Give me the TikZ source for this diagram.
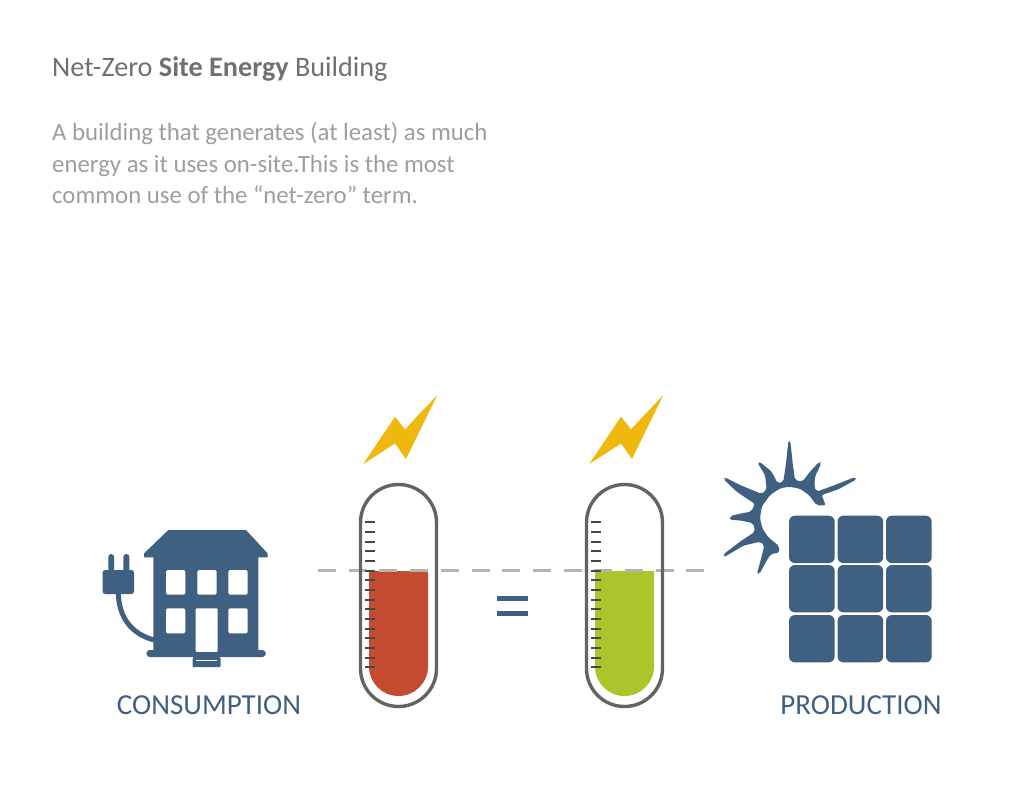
\documentclass[tikz,border=0pt]{standalone}
\usepackage{fontspec}
\setmainfont{Carlito}
\definecolor{slateblue}{HTML}{3F6080}
\definecolor{tubegray}{HTML}{636363}
\definecolor{dashgray}{HTML}{B4B4B4}
\definecolor{boltyellow}{HTML}{F0B70F}
\definecolor{levelred}{HTML}{C44A30}
\definecolor{levelgreen}{HTML}{ADC42A}
\tikzset{
  titletext/.style={anchor=base west,inner sep=0,text=black!56,font=\fontsize{28.2}{28}\selectfont},
  bodytext/.style={anchor=base west,inner sep=0,text=black!38,font=\fontsize{24.8}{25}\selectfont},
  labeltext/.style={anchor=base,inner sep=0,text=slateblue,font=\fontsize{29}{29}\selectfont},
  cell/.style={fill=slateblue,rounded corners=6},
}
\begin{document}
\begin{tikzpicture}[x=1pt,y=-1pt]
\useasboundingbox (0,0) rectangle (1024,792);

% Texte
\node[titletext] (title) at (52,77) {Net-Zero \textbf{Site Energy} Building};
\node[bodytext] (line1) at (52,140) {A building that generates (at least) as much};
\node[bodytext] (line2) at (52,172) {energy as it uses on-site.This is the most};
\node[bodytext] (line3) at (52,203) {common use of the “net-zero” term.};

% Niveau
\foreach \tubex/\levelcol in {0/levelred,226/levelgreen}{
  \fill[\levelcol] (369+\tubex,571) -- (428+\tubex,571) -- (428+\tubex,666.5)
    arc[start angle=0,end angle=180,x radius=29.5,y radius=29.5] -- cycle;
}

% Pointillés
\coordinate (dashstart) at (318,570.5);
\coordinate (dashend) at (704,570.5);
\draw[dashgray,line width=3,dash pattern=on 18 off 12.7] (dashstart) -- (dashend);

% Tubes et graduations
\foreach \tubex in {0,226}{
  \draw[tubegray,line width=3.4,rounded corners=38] (360.5+\tubex,484.5) rectangle (436.5+\tubex,706.5);
  \foreach \i in {0,...,15}
    \draw[black!72,line width=2.2] (365+\tubex,522.3+\i*9.67) -- (375+\tubex,522.3+\i*9.67);
  % Eclair
  \fill[boltyellow] (437.3+\tubex,395) -- (406+\tubex,459) -- (395+\tubex,443.5) -- (363.3+\tubex,464)
    -- (395+\tubex,416.7) -- (405+\tubex,429.3) -- cycle;
}

% Egal
\fill[slateblue] (497,596) rectangle (527.5,601);
\fill[slateblue] (497,611) rectangle (527.5,616);

% Maison
\fill[slateblue] (168.3,530) -- (246,530) -- (267.7,553.5) -- (267.7,557.3) -- (258.3,557.3) -- (258.3,650)
  -- (263,650) -- (265.5,652) -- (265.5,655) -- (263,657) -- (149,657) -- (146.7,655) -- (146.7,652) -- (149,650)
  -- (153.3,650) -- (153.3,557.3) -- (144,557.3) -- (144,553.5) -- cycle;
\foreach \winx in {166,197.3,228.3}
  \fill[white,rounded corners=1.5] (\winx,570) rectangle (\winx+19.4,594.7);
\foreach \winx in {166,228.3}
  \fill[white,rounded corners=1.5] (\winx,608.3) rectangle (\winx+19.4,633.3);
\fill[white,rounded corners=1] (195.7,608.3) rectangle (217.7,652);
\fill[slateblue,rounded corners=1] (197,652) -- (216,652) -- (220.7,658) -- (220.7,667) -- (192.7,667) -- (192.7,658) -- cycle;
\draw[white,line width=0.8] (196,660) -- (217,660);

% Prise
\draw[slateblue,line width=5] (118.3,592) .. controls (118.5,618) and (132,634) .. (154,640);
\fill[slateblue,rounded corners=2.5] (102.7,570) rectangle (134,594);
\fill[slateblue,rounded corners=2.8] (108.3,554) rectangle (114,575);
\fill[slateblue,rounded corners=2.8] (123.3,554) rectangle (129.3,575);

% Soleil
\begin{scope}[shift={(715,430)},scale=1/3]
\fill[slateblue,rounded corners=2] (305,226) -- (332,226) -- (320,195) -- (370,178) -- (424,148) -- (420,141)
  -- (365,163) -- (305,185) -- (298,170) -- (300,140) -- (319,99) -- (313,95) -- (285,125) -- (262,155)
  -- (240,150) -- (233,100) -- (226,33) -- (220,33) -- (213,100) -- (205,155) -- (188,160) -- (170,125)
  -- (135,96) -- (128,99) -- (150,135) -- (155,178) -- (140,192) -- (75,165) -- (30,142) -- (26,148)
  -- (65,185) -- (120,222) -- (108,245) -- (80,250) -- (46,258) -- (44,269) -- (80,272) -- (115,280)
  -- (120,305) -- (75,335) -- (24,374) -- (28,381) -- (85,347) -- (135,335) -- (148,345) -- (140,380)
  -- (126,430) -- (133,432) -- (157,388) -- (168,372) -- (193,368) -- (192,348) -- (160,322) -- (142,295)
  -- (135,265) -- (140,230) -- (165,195) -- (195,175) -- (222,170) -- (255,176) -- (282,195) -- cycle;
\end{scope}

% Panneau
\foreach \cellx in {789,837.5,886}
  \foreach \celly in {515.7,565,615}
    \fill[cell] (\cellx,\celly) rectangle (\cellx+45.7,\celly+47.4);

% Legendes
\node[labeltext] (consumption) at (209,714.5) {CONSUMPTION};
\node[labeltext] (production) at (861,714.5) {PRODUCTION};

\end{tikzpicture}
\end{document}
